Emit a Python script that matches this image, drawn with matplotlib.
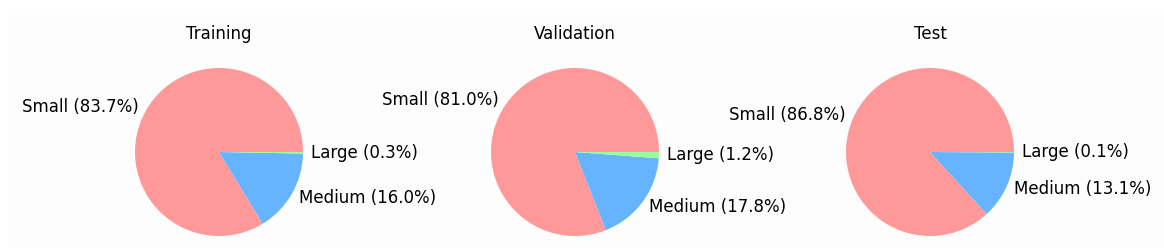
import matplotlib
matplotlib.use("Agg")
import matplotlib.pyplot as plt
from matplotlib.patches import Rectangle

# split sizes (%)
titles = ["Training", "Validation", "Test"]
categories = ["Small", "Medium", "Large"]
small = [83.7, 81.0, 86.8]
medium = [16.0, 17.8, 13.1]
large = [0.3, 1.2, 0.1]
colors = ["#ff9999", "#66b3ff", "#99ff99"]

W, H = 1164, 248
fig = plt.figure(figsize=(W / 100, H / 100), dpi=100)
fig.patch.set_facecolor("white")
fig.patches.append(Rectangle((9 / W, 0), 1 - 9 / W, 1 - 15 / H, transform=fig.transFigure,
                             facecolor="#fdfdfd", edgecolor="none", zorder=-10))

radius_px = 84
box = 2.5 * radius_px
centers_x = [219, 575, 930]
center_y = 152

for i, title in enumerate(titles):
    cx = centers_x[i]
    ax = fig.add_axes([(cx - box / 2) / W, (H - center_y - box / 2) / H, box / W, box / H])
    vals = [small[i], medium[i], large[i]]
    labels = [f"{c} ({v:.1f}%)" for c, v in zip(categories, vals)]
    ax.pie(vals, labels=labels, colors=colors, startangle=0,
           textprops={"fontsize": 12})
    ax.set_title(title, fontsize=12)

fig.savefig("out.png", dpi=100)
